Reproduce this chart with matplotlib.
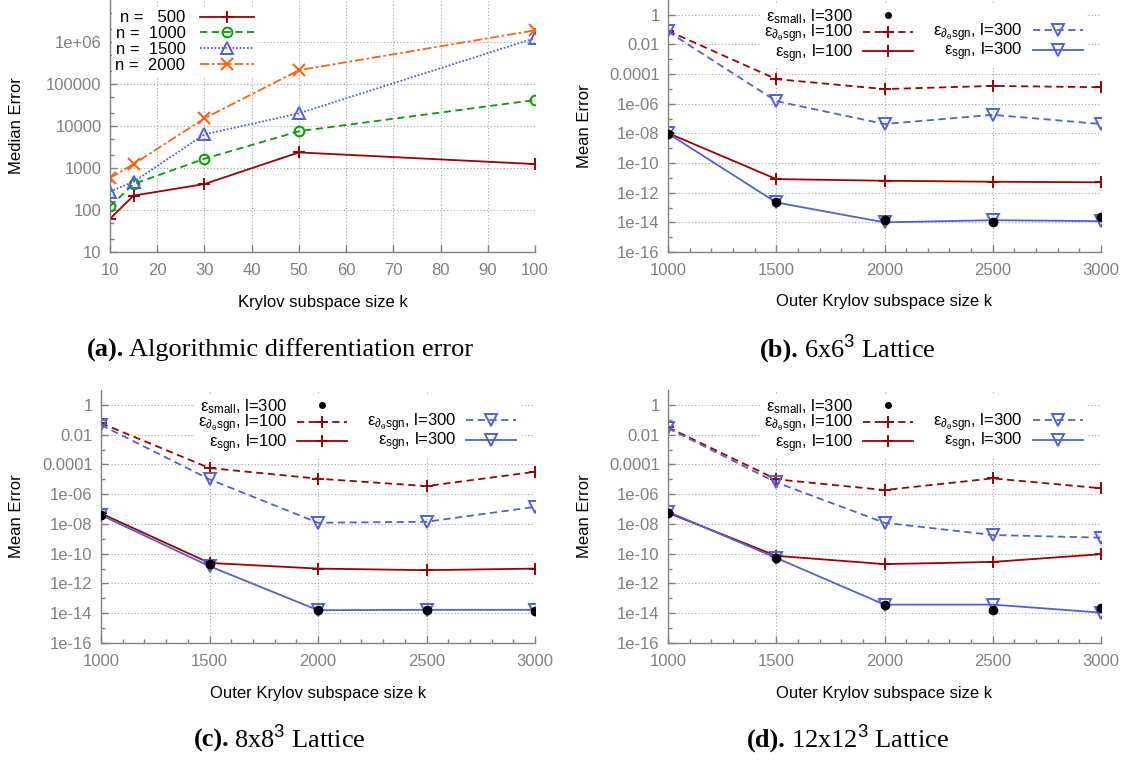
import numpy as np
import matplotlib
matplotlib.use("Agg")
import matplotlib.pyplot as plt
from matplotlib.lines import Line2D
from matplotlib.ticker import FixedLocator, MultipleLocator, NullFormatter

plt.rcParams["font.family"] = ["Liberation Sans", "DejaVu Sans"]
plt.rcParams["mathtext.fontset"] = "custom"
plt.rcParams["mathtext.rm"] = "Liberation Sans"
plt.rcParams["mathtext.it"] = "Liberation Sans:italic"
plt.rcParams["mathtext.bf"] = "Liberation Sans:bold"

# %% datos
# (a) error de diferenciacion algoritmica
k_a = [10, 15, 30, 50, 100]
err_500 = [62, 220, 415, 2350, 1240]
err_1000 = [123, 415, 1660, 7500, 41500]
err_1500 = [275, 470, 6300, 20000, 1.24e6]
err_2000 = [580, 1240, 15200, 2.13e5, 1.9e6]
n_labels = ["n =   500", "n =  1000", "n =  1500", "n =  2000"]

a_yticks = [10, 100, 1e3, 1e4, 1e5, 1e6]
a_ylabels = ["10", "100", "1000", "10000", "100000", "1e+06"]

# (b)-(d) error medio vs k externo
k_outer = [1000, 1500, 2000, 2500, 3000]

b_small = [9e-9, 2.3e-13, 1.5e-14, 1.05e-14, 2.3e-14]
b_dsgn100 = [0.083, 4.6e-5, 9.8e-6, 1.6e-5, 1.3e-5]
b_sgn100 = [1.05e-8, 8.3e-12, 6.4e-12, 5.5e-12, 5e-12]
b_dsgn300 = [0.075, 1.5e-6, 4.3e-8, 1.8e-7, 4.3e-8]
b_sgn300 = [1e-8, 2.2e-13, 1e-14, 1.4e-14, 1.2e-14]

c_small = [3.9e-8, 1.9e-11, 1.7e-14, 1.7e-14, 1.35e-14]
c_dsgn100 = [0.059, 5.7e-5, 1.1e-5, 3.5e-6, 3.2e-5]
c_sgn100 = [5.1e-8, 2.4e-11, 1e-11, 7.8e-12, 1e-11]
c_dsgn300 = [0.045, 1e-5, 1.2e-8, 1.4e-8, 1.4e-7]
c_sgn300 = [3.9e-8, 1.45e-11, 1.6e-14, 1.7e-14, 1.7e-14]

d_small = [5.6e-8, 5.2e-11, 3.4e-14, 1.7e-14, 2.1e-14]
d_dsgn100 = [0.031, 1e-5, 1.9e-6, 1.15e-5, 2.5e-6]
d_sgn100 = [5.6e-8, 7.2e-11, 2e-11, 2.8e-11, 9.3e-11]
d_dsgn300 = [0.027, 6.2e-6, 1.2e-8, 1.8e-9, 1.2e-9]
d_sgn300 = [6.6e-8, 5.2e-11, 3.8e-14, 3.8e-14, 1.1e-14]

lat_yticks = [1, 1e-2, 1e-4, 1e-6, 1e-8, 1e-10, 1e-12, 1e-14, 1e-16]
lat_ylabels = ["1", "0.01", "0.0001", "1e-06", "1e-08", "1e-10",
               "1e-12", "1e-14", "1e-16"]

lab_small = r"$\mathrm{ε}_{\mathrm{small}}$, l=300"
lab_dsgn100 = r"$\mathrm{ε}_{\mathrm{∂}_{\mathrm{θ}}\mathrm{sgn}}$, l=100"
lab_sgn100 = r"$\mathrm{ε}_{\mathrm{sgn}}$, l=100"
lab_dsgn300 = r"$\mathrm{ε}_{\mathrm{∂}_{\mathrm{θ}}\mathrm{sgn}}$, l=300"
lab_sgn300 = r"$\mathrm{ε}_{\mathrm{sgn}}$, l=300"

RED = "#a00000"
GREEN = "#00a000"
BLUE = "#5060d8"
ORANGE = "#ff6010"
GRAY = "#808080"
FS = 12

W, H = 1131, 760
fig = plt.figure(figsize=(W / 100, H / 100), dpi=100)


def add_ax(left, top, right, bottom):
    # caja en pixeles -> fracciones de figura
    return fig.add_axes([left / W, (H - bottom) / H, (right - left) / W, (bottom - top) / H])


def style_ax(ax):
    for s in ["top", "right"]:
        ax.spines[s].set_visible(False)
    for s in ["left", "bottom"]:
        ax.spines[s].set_color(GRAY)
        ax.spines[s].set_linewidth(1.0)
    ax.tick_params(which="both", direction="in", colors=GRAY, labelsize=FS,
                   top=False, right=False)
    ax.tick_params(which="major", length=5, width=1.0)
    ax.tick_params(which="minor", length=3, width=1.0)
    ax.tick_params(axis="x", pad=8)
    ax.tick_params(axis="y", pad=6)
    ax.grid(True, which="major", color="#a0a0a0", linestyle=(0, (1, 2)), linewidth=0.8)
    ax.set_axisbelow(True)


# %% (a)
ax = add_ax(110, 0, 535, 252)
style_ax(ax)
ax.set_yscale("log")
ax.plot(k_a, err_500, color=RED, lw=1.3, marker="+", ms=9, mew=1.4, label=n_labels[0])
ax.plot(k_a, err_1000, color=GREEN, lw=1.3, ls=(0, (4, 2.5)), marker="o", ms=7,
        mfc="none", mew=1.4, label=n_labels[1])
ax.plot(k_a, err_1500, color=BLUE, lw=1.3, ls=(0, (1, 1)), marker="^", ms=8,
        mfc="none", mew=1.4, label=n_labels[2])
ax.plot(k_a, err_2000, color=ORANGE, lw=1.3, ls=(0, (5, 1.5, 1.5, 1.5)), marker="x",
        ms=8, mew=1.5, label=n_labels[3])
ax.set_xlim(10, 100)
ax.set_ylim(10, 1e7)
ax.xaxis.set_major_locator(MultipleLocator(10))
ax.yaxis.set_major_locator(FixedLocator(a_yticks))
ax.set_yticklabels(a_ylabels)
minors = [m * 10.0 ** e for e in range(1, 7) for m in (2, 5)]
ax.yaxis.set_minor_locator(FixedLocator(minors))
ax.yaxis.set_minor_formatter(NullFormatter())
ax.set_xlabel("Krylov subspace size k", fontsize=FS)
ax.set_ylabel("Median Error", fontsize=FS)
ax.xaxis.set_label_coords(0.5, -0.17)
ax.yaxis.set_label_coords(-0.202, 0.5)
leg = ax.legend(loc="upper left", bbox_to_anchor=(0.005, 0.972), markerfirst=False,
                frameon=True, fontsize=FS, handlelength=3.2, handletextpad=0.9,
                labelspacing=0.05, borderpad=0.2, borderaxespad=0)
leg.get_frame().set_facecolor("white")
leg.get_frame().set_edgecolor("none")
leg.get_frame().set_alpha(1.0)


def lattice_panel(box, small, dsgn100, sgn100, dsgn300, sgn300, ylab_x):
    ax = add_ax(*box)
    style_ax(ax)
    ax.set_yscale("log")
    ax.plot(k_outer, dsgn100, color=RED, lw=1.3, ls=(0, (4, 2.5)), marker="+", ms=9, mew=1.4)
    ax.plot(k_outer, sgn100, color=RED, lw=1.3, marker="+", ms=9, mew=1.4)
    ax.plot(k_outer, dsgn300, color=BLUE, lw=1.3, ls=(0, (4, 2.5)), marker="v", ms=8,
            mfc="none", mew=1.4)
    ax.plot(k_outer, sgn300, color=BLUE, lw=1.3, marker="v", ms=8, mfc="none", mew=1.4)
    ax.plot(k_outer, small, ls="none", marker="o", ms=6, color="black", zorder=5)
    ax.set_xlim(1000, 3000)
    ax.set_ylim(1e-16, 10)
    ax.xaxis.set_major_locator(MultipleLocator(500))
    ax.xaxis.set_minor_locator(MultipleLocator(100))
    ax.yaxis.set_major_locator(FixedLocator(lat_yticks))
    ax.set_yticklabels(lat_ylabels)
    ax.yaxis.set_minor_locator(FixedLocator([10.0 ** e for e in range(-15, 1, 2)]))
    ax.yaxis.set_minor_formatter(NullFormatter())
    ax.set_xlabel("Outer Krylov subspace size k", fontsize=FS)
    ax.set_ylabel("Mean Error", fontsize=FS)
    ax.xaxis.set_label_coords(0.5, -0.168)
    ax.yaxis.set_label_coords(ylab_x, 0.5)

    # leyenda en dos columnas, texto a la izquierda como gnuplot
    h_small = Line2D([], [], ls="none", marker="o", ms=4, color="black")
    h_d100 = Line2D([], [], color=RED, lw=1.3, ls=(0, (4, 2.5)), marker="+", ms=9, mew=1.4)
    h_s100 = Line2D([], [], color=RED, lw=1.3, marker="+", ms=9, mew=1.4)
    h_blank = Line2D([], [], ls="none")
    h_d300 = Line2D([], [], color=BLUE, lw=1.3, ls=(0, (4, 2.5)), marker="v", ms=8,
                    mfc="none", mew=1.4)
    h_s300 = Line2D([], [], color=BLUE, lw=1.3, marker="v", ms=8, mfc="none", mew=1.4)
    leg = ax.legend([h_small, h_d100, h_s100, h_blank, h_d300, h_s300],
                    [lab_small, lab_dsgn100, lab_sgn100, "", lab_dsgn300, lab_sgn300],
                    ncol=2, loc="upper right", bbox_to_anchor=(0.965, 0.985),
                    markerfirst=False, fontsize=FS, handlelength=3.0,
                    handletextpad=0.6, labelspacing=-0.18, columnspacing=1.2,
                    borderpad=0.2, borderaxespad=0, frameon=True)
    leg.get_frame().set_facecolor("white")
    leg.get_frame().set_edgecolor("none")
    leg.get_frame().set_alpha(1.0)
    return ax


lattice_panel((668, 0, 1101, 252), b_small, b_dsgn100, b_sgn100, b_dsgn300, b_sgn300, -0.176)
lattice_panel((101, 390, 535, 643), c_small, c_dsgn100, c_sgn100, c_dsgn300, c_sgn300, -0.177)
lattice_panel((668, 390, 1101, 643), d_small, d_dsgn100, d_sgn100, d_dsgn300, d_sgn300, -0.176)


# %% pies de figura: "(a)." en negrita + resto, centrado en cx
renderer = fig.canvas.get_renderer()


def caption(cx, y, tag, rest):
    t1 = fig.text(0, 1 - y / H, tag, ha="left", va="center", fontsize=19,
                  fontweight="bold", family="Liberation Serif")
    t2 = fig.text(0, 1 - y / H, rest, ha="left", va="center", fontsize=19,
                  family="Liberation Serif")
    w1 = t1.get_window_extent(renderer).width
    w2 = t2.get_window_extent(renderer).width
    gap = 5
    x0 = cx - (w1 + gap + w2) / 2
    t1.set_x(x0 / W)
    t2.set_x((x0 + w1 + gap) / W)


caption(280, 350, "(a).", "Algorithmic differentiation error")
caption(848, 350, "(b).", "6x6$^3$ Lattice")
caption(280, 740, "(c).", "8x8$^3$ Lattice")
caption(848, 740, "(d).", "12x12$^3$ Lattice")

fig.savefig("out.png", dpi=100)
